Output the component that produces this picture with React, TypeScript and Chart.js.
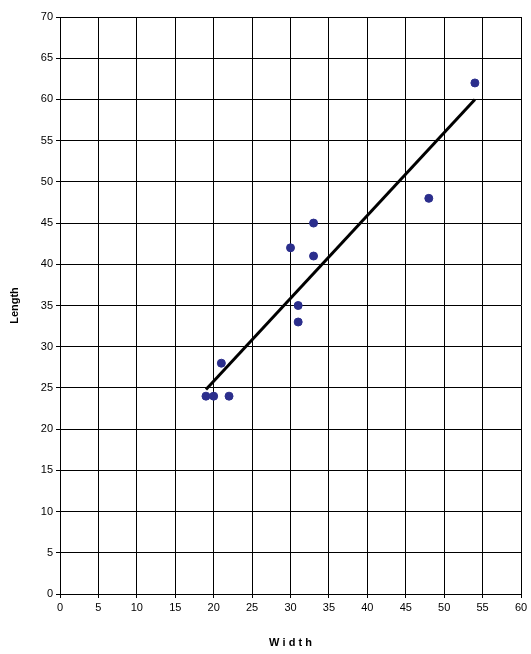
import React, { useEffect, useRef } from "react";
import { Chart, registerables } from "chart.js";
Chart.register(...registerables);

const widths = [19, 20, 22, 21, 30, 31, 31, 33, 33, 48, 54];
const lengths = [24, 24, 24, 28, 42, 35, 33, 45, 41, 48, 62];
const trendX = [19, 54];
const trendY = [24.8, 60];

export default function App() {
  const ref = useRef<HTMLCanvasElement>(null);
  useEffect(() => {
    const font = { family: "Arial, 'Liberation Sans'", size: 11 };
    const chart = new Chart(ref.current!, {
      type: "scatter",
      data: {
        datasets: [
          {
            data: widths.map((x, i) => ({ x, y: lengths[i] })),
            backgroundColor: "#2B2E8C",
            borderColor: "#2B2E8C",
            pointRadius: 4,
          },
          {
            type: "line",
            data: trendX.map((x, i) => ({ x, y: trendY[i] })),
            borderColor: "#000",
            borderWidth: 3,
            pointRadius: 0,
            showLine: true,
          } as any,
        ],
      },
      options: {
        animation: false,
        responsive: false,
        layout: { padding: { top: 17, right: 10, left: 4, bottom: 0 } },
        plugins: { legend: { display: false }, tooltip: { enabled: false } },
        scales: {
          x: {
            min: 0, max: 60,
            ticks: { stepSize: 5, color: "#000", font },
            grid: { color: "#000", drawTicks: true, tickLength: 4 },
            border: { color: "#000" },
            title: { display: true, text: "W i d t h", color: "#000", font: { ...font, weight: "bold" }, padding: { top: 20 } },
            afterFit: (s: any) => { s.height = 60; },
          },
          y: {
            min: 0, max: 70,
            ticks: { stepSize: 5, color: "#000", font },
            grid: { color: "#000", tickLength: 4 },
            border: { color: "#000" },
            title: { display: true, text: "Length", color: "#000", font: { ...font, weight: "bold" }, padding: { bottom: 10 } },
            afterFit: (s: any) => { s.width = 56; },
          },
        },
      },
    });
    return () => chart.destroy();
  }, []);
  return <canvas ref={ref} width={531} height={654} style={{ display: "block", position: "absolute", left: 0, top: 0 }} />;
}
